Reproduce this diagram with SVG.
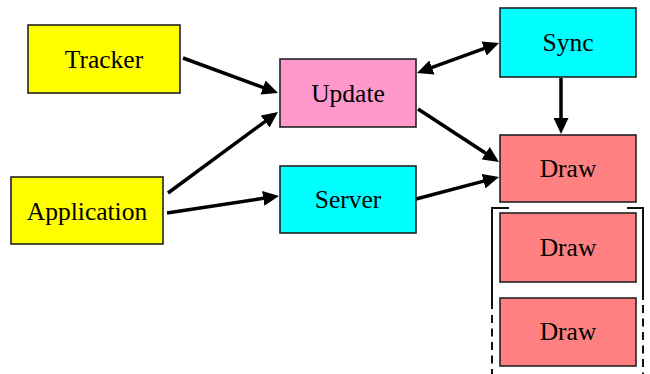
<svg xmlns="http://www.w3.org/2000/svg" width="650" height="374" viewBox="0 0 650 374">
<style>
.box{stroke:#222;stroke-width:1.6}
.yellow{fill:#FFFF00}
.pink{fill:#FF99CC}
.cyan{fill:#00FFFF}
.red{fill:#FF8080}
.lbl{font-family:"Liberation Serif","Times New Roman",serif;font-size:25.5px;fill:#000;text-anchor:middle}
.edge{stroke:#000;stroke-width:3.5;fill:none;marker-end:url(#ah)}
.br{stroke:#111;stroke-width:2;fill:none}
.dash{stroke:#111;stroke-width:2;fill:none;stroke-dasharray:8 5.5}
</style>
<defs>
<marker id="ah" viewBox="0 0 16 15" markerWidth="16" markerHeight="15" markerUnits="userSpaceOnUse" refX="2" refY="7.5" orient="auto-start-reverse">
<path d="M0,0 L16,7.5 L0,15 z" fill="#000"/>
</marker>
</defs>
<rect width="650" height="374" fill="#fff"/>
<g id="connectors">
<line class="edge" x1="183" y1="58" x2="264.9" y2="88.2"/>
<line class="edge" x1="168" y1="193" x2="266.7" y2="120.3"/>
<line class="edge" x1="167" y1="213" x2="265.2" y2="198.1"/>
<line class="edge" x1="430.1" y1="68.2" x2="485.9" y2="47.8" style="marker-start:url(#ah)"/>
<line class="edge" x1="418" y1="109" x2="487.3" y2="154.3"/>
<line class="edge" x1="416" y1="199" x2="485.5" y2="180.6"/>
<line class="edge" x1="561" y1="78" x2="561" y2="120"/>
</g>
<g id="bracket">
<path class="br" d="M509,208 H492 V309"/>
<path class="dash" d="M492,315 V374"/>
<path class="br" d="M627,208 H643 V300"/>
<path class="dash" d="M643,305 V374"/>
</g>
<g id="tracker"><rect class="box yellow" x="28" y="25" width="152" height="68"/><text class="lbl" x="104" y="68">Tracker</text></g>
<g id="application"><rect class="box yellow" x="11" y="177" width="152" height="67"/><text class="lbl" x="87" y="220">Application</text></g>
<g id="update"><rect class="box pink" x="280" y="59" width="136" height="68"/><text class="lbl" x="348" y="102">Update</text></g>
<g id="server"><rect class="box cyan" x="280" y="166" width="136" height="67"/><text class="lbl" x="348" y="208">Server</text></g>
<g id="sync"><rect class="box cyan" x="500" y="8" width="136" height="69"/><text class="lbl" x="568" y="51">Sync</text></g>
<g id="draw1"><rect class="box red" x="500" y="135" width="136" height="67"/><text class="lbl" x="568" y="177">Draw</text></g>
<g id="draw2"><rect class="box red" x="500" y="213" width="136" height="69"/><text class="lbl" x="568" y="256">Draw</text></g>
<g id="draw3"><rect class="box red" x="500" y="298" width="136" height="68"/><text class="lbl" x="568" y="340">Draw</text></g>
</svg>
